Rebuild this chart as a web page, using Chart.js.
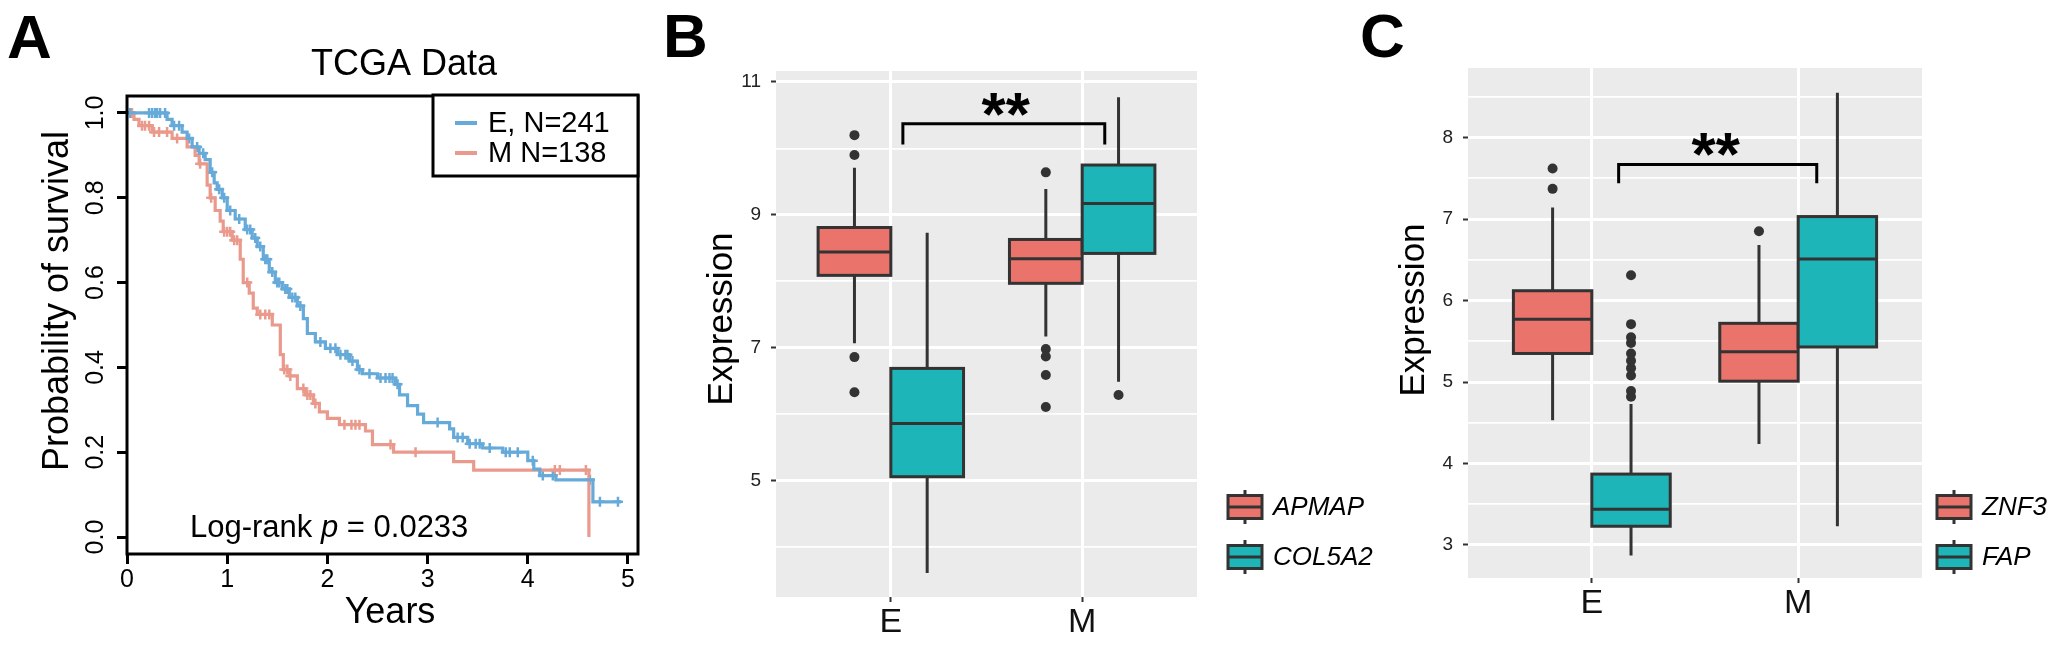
<!DOCTYPE html>
<html>
<head>
<meta charset="utf-8">
<script src="https://cdn.jsdelivr.net/npm/chart.js@4.4.1/dist/chart.umd.min.js"></script>
<style>
  html, body { margin: 0; padding: 0; background: #fff; }
  body { width: 2059px; height: 645px; position: relative; overflow: hidden; }
  canvas { position: absolute; top: 0; }
  #panelA { left: 0; }
  #panelB { left: 650px; }
  #panelC { left: 1340px; }
</style>
</head>
<body>
<canvas id="panelA" width="660" height="645"></canvas>
<canvas id="panelB" width="740" height="645"></canvas>
<canvas id="panelC" width="719" height="645"></canvas>
<script>
// ---------- Panel A: Kaplan-Meier, TCGA ----------
const kmTicksX = [0, 1, 2, 3, 4, 5];
const kmTicksY = [0, 0.2, 0.4, 0.6, 0.8, 1.0];

const kmTimesE = [0, 0.40, 0.45, 0.55, 0.60, 0.65, 0.72, 0.78, 0.83, 0.87, 0.90, 0.95, 1.00, 1.08, 1.18, 1.25,
  1.30, 1.36, 1.42, 1.48, 1.55, 1.62, 1.70, 1.76, 1.80, 1.88, 1.98, 2.10, 2.22, 2.30, 2.35, 2.50, 2.68, 2.72,
  2.80, 2.90, 2.96, 3.22, 3.26, 3.40, 3.55, 3.75, 4.00, 4.06, 4.12, 4.28, 4.65, 4.93];
const kmSurvE = [1, 0.985, 0.97, 0.955, 0.94, 0.92, 0.905, 0.89, 0.86, 0.835, 0.82, 0.80, 0.77, 0.75, 0.725, 0.705,
  0.685, 0.655, 0.625, 0.60, 0.585, 0.565, 0.545, 0.515, 0.48, 0.46, 0.445, 0.43, 0.415, 0.395, 0.385, 0.375, 0.36, 0.335,
  0.31, 0.29, 0.27, 0.255, 0.235, 0.22, 0.21, 0.20, 0.18, 0.16, 0.145, 0.135, 0.083, 0.083];
const kmCensorE = [0.03, 0.22, 0.25, 0.28, 0.30, 0.33, 0.38, 0.47, 0.52, 0.62, 0.70, 0.76, 0.85, 0.92, 0.97, 1.03,
  1.12, 1.20, 1.23, 1.28, 1.33, 1.38, 1.40, 1.45, 1.50, 1.52, 1.58, 1.60, 1.65, 1.68, 1.73, 1.93, 2.03, 2.08, 2.13,
  2.18, 2.20, 2.25, 2.32, 2.42, 2.53, 2.58, 2.62, 2.65, 2.70, 3.10, 3.30, 3.35, 3.42, 3.48, 3.52, 3.62, 3.78, 3.82,
  3.90, 4.05, 4.15, 4.25, 4.62, 4.72, 4.90];

const kmTimesM = [0, 0.07, 0.12, 0.25, 0.45, 0.60, 0.68, 0.72, 0.80, 0.83, 0.88, 0.93, 0.96, 1.05, 1.13, 1.16,
  1.22, 1.26, 1.30, 1.45, 1.53, 1.56, 1.62, 1.70, 1.78, 1.86, 1.92, 2.00, 2.12, 2.38, 2.45, 2.66, 3.26, 3.46, 4.61];
const kmSurvM = [1, 0.985, 0.97, 0.955, 0.94, 0.92, 0.90, 0.88, 0.83, 0.80, 0.77, 0.745, 0.72, 0.70, 0.655, 0.60,
  0.575, 0.54, 0.525, 0.50, 0.43, 0.395, 0.38, 0.35, 0.335, 0.315, 0.295, 0.28, 0.265, 0.25, 0.218, 0.20, 0.178, 0.158, 0];
const kmCensorM = [0.05, 0.15, 0.18, 0.22, 0.27, 0.32, 0.40, 0.50, 0.73, 0.84, 0.97, 1.00, 1.03, 1.07, 1.10, 1.20,
  1.33, 1.38, 1.42, 1.57, 1.60, 1.63, 1.76, 1.80, 1.83, 1.88, 2.17, 2.24, 2.28, 2.32, 2.63, 2.88, 4.27, 4.32, 4.58];

// ---------- Panels B and C: boxplots ----------
const boxCategories = ['E', 'M'];
// each entry: [lower whisker, Q1, median, Q3, upper whisker], one per category
const apmapStats = [[7.07, 8.09, 8.44, 8.81, 9.71], [7.17, 7.97, 8.34, 8.63, 9.39]];
const col5a2Stats = [[3.61, 5.06, 5.86, 6.69, 8.73], [6.49, 8.42, 9.17, 9.75, 10.77]];
const apmapOutliers = [[10.2, 9.9, 6.86, 6.33], [9.64, 6.98, 6.87, 6.59, 6.11]];
const col5a2Outliers = [[], [6.29]];
const ticksMajorB = [5, 7, 9, 11];
const ticksMinorB = [4, 6, 8, 10];

const znf3Stats = [[4.53, 5.35, 5.77, 6.12, 7.14], [4.24, 5.01, 5.37, 5.72, 6.68]];
const fapStats = [[2.87, 3.23, 3.44, 3.87, 4.73], [3.23, 5.43, 6.51, 7.03, 8.55]];
const znf3Outliers = [[7.62, 7.37], [6.85]];
const fapOutliers = [[6.31, 5.71, 5.55, 5.48, 5.35, 5.26, 5.17, 5.08, 4.89, 4.82], []];
const ticksMajorC = [3, 4, 5, 6, 7, 8];
const ticksMinorC = [3.5, 4.5, 5.5, 6.5, 7.5, 8.5];

const FONT = '"Liberation Sans", Arial, Helvetica, sans-serif';
Chart.defaults.font.family = FONT;
Chart.defaults.color = '#000';

const BLUE = '#66AADA';
const SALMON = '#EA9A8C';
const BOX_RED = '#EA746B';
const BOX_TEAL = '#1EB5B8';
const INK = '#333333';

function stepAt(times, surv, t) {
  let s = surv[0];
  for (let i = 0; i < times.length; i++) {
    if (times[i] <= t) s = surv[i];
  }
  return s;
}
const toPoints = (xs, ys) => xs.map((x, i) => ({ x: x, y: ys[i] }));

const kmDecor = {
  id: 'kmDecor',
  afterDraw(chart) {
    const { ctx, chartArea: a } = chart;
    const y = chart.scales.y;
    ctx.save();
    ctx.strokeStyle = '#000';
    ctx.lineWidth = 3;
    ctx.strokeRect(a.left, a.top, a.right - a.left, a.bottom - a.top);

    ctx.fillStyle = '#000';
    ctx.textAlign = 'center';
    ctx.textBaseline = 'middle';
    ctx.font = '25px ' + FONT;
    y.ticks.forEach(t => {
      ctx.save();
      ctx.translate(a.left - 31, y.getPixelForValue(t.value));
      ctx.rotate(-Math.PI / 2);
      ctx.fillText(t.value.toFixed(1), 0, 0);
      ctx.restore();
    });

    ctx.font = '36px ' + FONT;
    ctx.save();
    ctx.translate(58, 301);
    ctx.rotate(-Math.PI / 2);
    ctx.fillText('Probability of survival', 0, 0);
    ctx.restore();

    ctx.textBaseline = 'alphabetic';
    ctx.fillText('Years', 390, 623);
    ctx.fillText('TCGA Data', 404, 75);

    ctx.textAlign = 'left';
    ctx.font = 'bold 62px ' + FONT;
    ctx.fillText('A', 7, 58);

    // log-rank annotation
    ctx.font = '31px ' + FONT;
    let x = 190;
    ctx.fillText('Log-rank ', x, 537);
    x += ctx.measureText('Log-rank ').width;
    ctx.font = 'italic 31px ' + FONT;
    ctx.fillText('p', x, 537);
    x += ctx.measureText('p').width;
    ctx.font = '31px ' + FONT;
    ctx.fillText(' = 0.0233', x, 537);

    // legend
    ctx.fillStyle = '#fff';
    ctx.fillRect(433, 95, a.right - 433, 81);
    ctx.strokeRect(433, 95, a.right - 433, 81);
    const items = chart.data.datasets.slice(0, 2);
    ctx.lineWidth = 4;
    ctx.font = '29px ' + FONT;
    ctx.textBaseline = 'middle';
    items.forEach((d, i) => {
      const ly = 123 + i * 30;
      ctx.strokeStyle = d.borderColor;
      ctx.beginPath();
      ctx.moveTo(455, ly);
      ctx.lineTo(477, ly);
      ctx.stroke();
      ctx.fillStyle = '#000';
      ctx.fillText(d.label, 488, ly + 1);
    });
    ctx.restore();
  }
};

new Chart(document.getElementById('panelA'), {
  type: 'line',
  data: {
    datasets: [
      { label: 'E, N=241', data: toPoints(kmTimesE, kmSurvE), stepped: 'before', borderColor: BLUE, borderWidth: 3.2, pointRadius: 0, fill: false },
      { label: 'M N=138', data: toPoints(kmTimesM, kmSurvM), stepped: 'before', borderColor: SALMON, borderWidth: 3.2, pointRadius: 0, fill: false },
      { label: 'E censored', data: kmCensorE.map(t => ({ x: t, y: stepAt(kmTimesE, kmSurvE, t) })), showLine: false,
        pointStyle: 'cross', pointRadius: 5, pointBorderWidth: 2.5, pointBorderColor: BLUE, borderColor: BLUE },
      { label: 'M censored', data: kmCensorM.map(t => ({ x: t, y: stepAt(kmTimesM, kmSurvM, t) })), showLine: false,
        pointStyle: 'cross', pointRadius: 5, pointBorderWidth: 2.5, pointBorderColor: SALMON, borderColor: SALMON }
    ]
  },
  options: {
    responsive: false,
    animation: false,
    events: [],
    layout: { padding: { left: 0, top: 96, right: 22, bottom: 0 } },
    plugins: { legend: { display: false }, tooltip: { enabled: false } },
    scales: {
      x: {
        type: 'linear', min: 0, max: 5.1,
        afterBuildTicks: s => { s.ticks = kmTicksX.map(v => ({ value: v })); },
        afterFit: s => { s.height = 91; },
        border: { display: false },
        grid: { drawOnChartArea: false, tickLength: 10, tickWidth: 3, tickColor: '#000' },
        ticks: { font: { size: 25 }, color: '#000', padding: 1, maxRotation: 0, callback: v => String(v) }
      },
      y: {
        type: 'linear', min: -0.04, max: 1.04,
        afterBuildTicks: s => { s.ticks = kmTicksY.map(v => ({ value: v })); },
        afterFit: s => { s.width = 127; },
        border: { display: false },
        grid: { drawOnChartArea: false, tickLength: 10, tickWidth: 3, tickColor: '#000' },
        ticks: { display: false }
      }
    }
  },
  plugins: [kmDecor]
});

// ---------- box plot panels ----------
function boxPanel(canvasId, cfg) {
  const dodge = [-0.19, 0.19];
  const boxWidth = 0.38;
  const colors = [BOX_RED, BOX_TEAL];
  const yTicks = cfg.major.concat(cfg.minor).sort((p, q) => p - q);
  const isMajor = v => cfg.major.includes(v);

  const outlierSets = cfg.groups.map((g, gi) => ({
    label: g,
    data: boxCategories.flatMap((c, ci) => cfg.outliers[gi][ci].map(v => ({ x: ci + dodge[gi], y: v }))),
    showLine: false,
    pointRadius: 5,
    pointBackgroundColor: INK,
    pointBorderWidth: 0
  }));

  const decor = {
    id: 'boxDecor',
    beforeDraw(chart) {
      const { ctx, chartArea: a } = chart;
      ctx.save();
      ctx.fillStyle = '#EBEBEB';
      ctx.fillRect(a.left, a.top, a.right - a.left, a.bottom - a.top);
      ctx.restore();
    },
    beforeDatasetsDraw(chart) {
      const { ctx } = chart;
      const xs = chart.scales.x, ys = chart.scales.y;
      const half = (xs.getPixelForValue(boxWidth / 2) - xs.getPixelForValue(0));
      ctx.save();
      ctx.strokeStyle = INK;
      ctx.lineWidth = 3;
      cfg.stats.forEach((groupStats, gi) => {
        groupStats.forEach((s, ci) => {
          const cx = xs.getPixelForValue(ci + dodge[gi]);
          const [lo, q1, med, q3, hi] = s.map(v => ys.getPixelForValue(v));
          ctx.beginPath();
          ctx.moveTo(cx, lo); ctx.lineTo(cx, q1);
          ctx.moveTo(cx, q3); ctx.lineTo(cx, hi);
          ctx.stroke();
          ctx.fillStyle = colors[gi];
          ctx.fillRect(cx - half, q3, half * 2, q1 - q3);
          ctx.strokeRect(cx - half, q3, half * 2, q1 - q3);
          ctx.beginPath();
          ctx.moveTo(cx - half, med); ctx.lineTo(cx + half, med);
          ctx.stroke();
        });
      });
      ctx.restore();
    },
    afterDatasetsDraw(chart) {
      const { ctx } = chart;
      const xs = chart.scales.x, ys = chart.scales.y;
      const b = cfg.bracket;
      const xl = xs.getPixelForValue(b.left), xr = xs.getPixelForValue(b.right);
      const yt = ys.getPixelForValue(b.top), yl = ys.getPixelForValue(b.leg);
      ctx.save();
      ctx.strokeStyle = '#000';
      ctx.lineWidth = 3;
      ctx.beginPath();
      ctx.moveTo(xl, yl); ctx.lineTo(xl, yt); ctx.lineTo(xr, yt); ctx.lineTo(xr, yl);
      ctx.stroke();
      ctx.fillStyle = '#000';
      ctx.font = 'bold 62px ' + FONT;
      ctx.textAlign = 'center';
      ctx.textBaseline = 'alphabetic';
      const m = ctx.measureText('**');
      const cy = ys.getPixelForValue(b.starY);
      ctx.fillText('**', xs.getPixelForValue(b.starX), cy + (m.actualBoundingBoxAscent - m.actualBoundingBoxDescent) / 2);
      ctx.restore();
    },
    afterDraw(chart) {
      const { ctx } = chart;
      ctx.save();
      ctx.fillStyle = '#000';
      ctx.font = 'bold 62px ' + FONT;
      ctx.textAlign = 'left';
      ctx.textBaseline = 'alphabetic';
      ctx.fillText(cfg.letter, cfg.letterX, 57);

      ctx.font = '35px ' + FONT;
      ctx.textAlign = 'center';
      ctx.textBaseline = 'middle';
      ctx.save();
      ctx.translate(cfg.titleX, cfg.titleY);
      ctx.rotate(-Math.PI / 2);
      ctx.fillText('Expression', 0, 0);
      ctx.restore();

      // legend
      ctx.textAlign = 'left';
      ctx.font = 'italic 26px ' + FONT;
      ctx.lineWidth = 3;
      ctx.strokeStyle = INK;
      cfg.groups.forEach((g, gi) => {
        const cy = 507 + gi * 50;
        const kx = cfg.legendX;
        ctx.beginPath();
        ctx.moveTo(kx + 17, cy - 17); ctx.lineTo(kx + 17, cy + 17);
        ctx.stroke();
        ctx.fillStyle = colors[gi];
        ctx.fillRect(kx, cy - 11.5, 34, 23);
        ctx.strokeRect(kx, cy - 11.5, 34, 23);
        ctx.beginPath();
        ctx.moveTo(kx, cy); ctx.lineTo(kx + 34, cy);
        ctx.stroke();
        ctx.fillStyle = '#000';
        ctx.fillText(g, kx + 45, cy + 1);
      });
      ctx.restore();
    }
  };

  return new Chart(document.getElementById(canvasId), {
    type: 'scatter',
    data: { datasets: outlierSets },
    options: {
      responsive: false,
      animation: false,
      events: [],
      layout: { padding: { left: 0, top: cfg.top, right: cfg.right, bottom: 0 } },
      plugins: { legend: { display: false }, tooltip: { enabled: false } },
      scales: {
        x: {
          type: 'linear', min: -0.6, max: 1.6,
          afterBuildTicks: s => { s.ticks = boxCategories.map((c, i) => ({ value: i })); },
          afterFit: s => { s.height = cfg.xHeight; },
          border: { display: false },
          grid: { color: '#FFFFFF', lineWidth: 3, tickLength: 5, tickWidth: 2, tickColor: INK },
          ticks: { font: { size: 34 }, color: '#111', padding: 0, maxRotation: 0, autoSkip: false,
                   callback: v => boxCategories[v] || '' }
        },
        y: {
          type: 'linear', min: cfg.yMin, max: cfg.yMax,
          afterBuildTicks: s => { s.ticks = yTicks.map(v => ({ value: v })); },
          afterFit: s => { s.width = cfg.yWidth; },
          border: { display: false },
          grid: {
            color: '#FFFFFF',
            lineWidth: c => (c.tick && isMajor(c.tick.value) ? 3 : 1.8),
            tickLength: 5, tickWidth: 2,
            tickColor: c => (c.tick && isMajor(c.tick.value) ? INK : 'rgba(0,0,0,0)')
          },
          ticks: { font: { size: 19 }, color: '#222', padding: 10, autoSkip: false,
                   callback: v => (isMajor(v) ? String(v) : '') }
        }
      }
    },
    plugins: [decor]
  });
}

boxPanel('panelB', {
  letter: 'B', letterX: 13,
  groups: ['APMAP', 'COL5A2'],
  stats: [apmapStats, col5a2Stats],
  outliers: [apmapOutliers, col5a2Outliers],
  major: ticksMajorB, minor: ticksMinorB,
  yMin: 3.25, yMax: 11.165,
  top: 71, right: 193, yWidth: 126, xHeight: 48,
  titleX: 72, titleY: 319,
  legendX: 578,
  bracket: { left: 0.063, right: 1.118, top: 10.37, leg: 10.06, starX: 0.6, starY: 10.66 }
});

boxPanel('panelC', {
  letter: 'C', letterX: 20,
  groups: ['ZNF3', 'FAP'],
  stats: [znf3Stats, fapStats],
  outliers: [znf3Outliers, fapOutliers],
  major: ticksMajorC, minor: ticksMinorC,
  yMin: 2.595, yMax: 8.853,
  top: 68, right: 137, yWidth: 128, xHeight: 67,
  titleX: 74, titleY: 310,
  legendX: 597,
  bracket: { left: 0.13, right: 1.09, top: 7.67, leg: 7.44, starX: 0.6, starY: 7.91 }
});
</script>
</body>
</html>
